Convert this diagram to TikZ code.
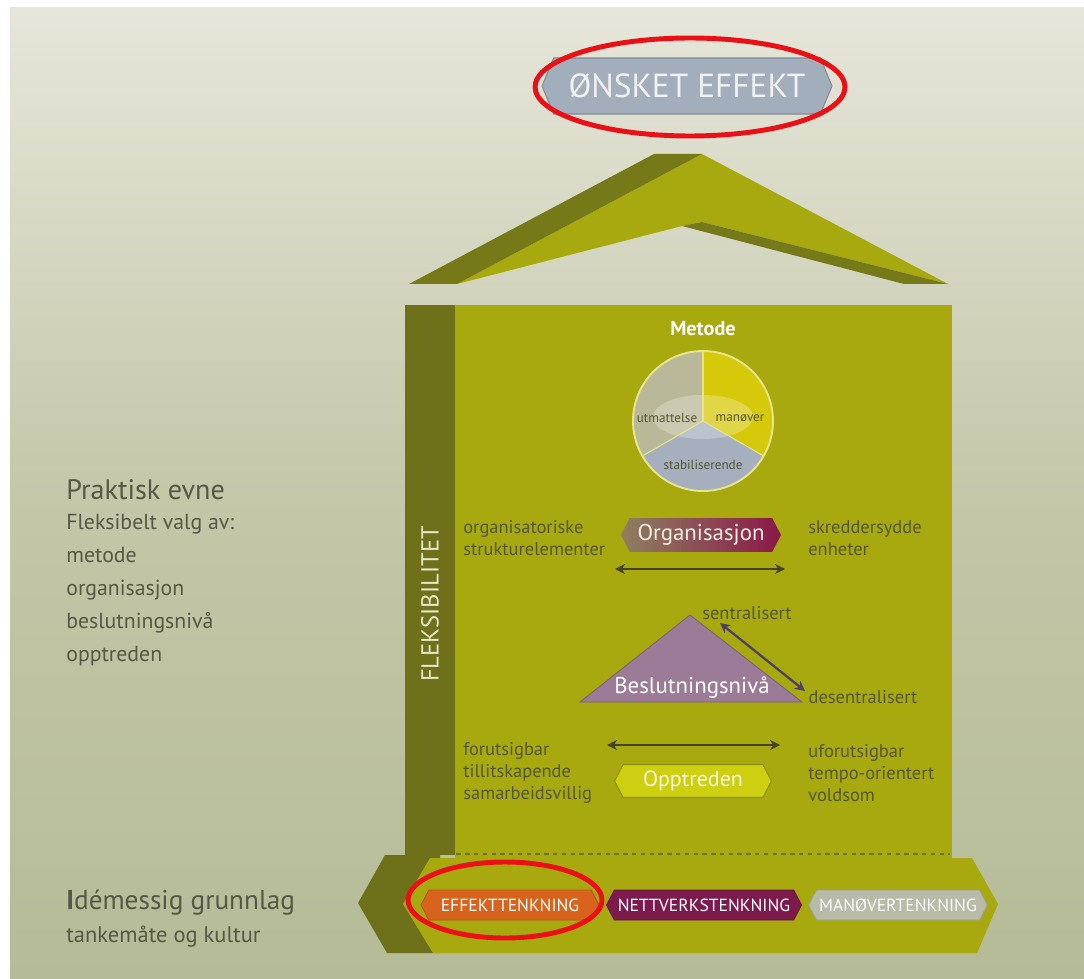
\documentclass[tikz,border=0pt]{standalone}
\usepackage{fontspec}
\setmainfont{PT Sans}
\usepackage{tikz}
\usetikzlibrary{shapes.symbols, shapes.geometric, arrows.meta, positioning, calc}
\definecolor{bgtop}{RGB}{230,230,218}
\definecolor{bgmid}{RGB}{196,199,168}
\definecolor{bgbottom}{RGB}{181,187,151}
\definecolor{olivelight}{RGB}{167,169,15}
\definecolor{olivedark}{RGB}{110,113,26}
\definecolor{roofdark}{RGB}{118,121,24}
\definecolor{textolive}{RGB}{86,86,46}
\definecolor{textgrey}{RGB}{85,88,68}
\definecolor{effektblue}{RGB}{163,174,188}
\definecolor{orgbrown}{RGB}{142,128,96}
\definecolor{orgmagenta}{RGB}{138,24,72}
\definecolor{triangmauve}{RGB}{155,123,152}
\definecolor{opptyellow}{RGB}{205,207,16}
\definecolor{effektorange}{RGB}{216,99,28}
\definecolor{nettpurple}{RGB}{124,26,76}
\definecolor{manovergrey}{RGB}{184,187,168}
\definecolor{piegrey}{RGB}{185,185,154}
\definecolor{pieyellow}{RGB}{214,201,10}
\definecolor{pieblue}{RGB}{165,175,190}
\definecolor{pieline}{RGB}{232,228,140}
\definecolor{markred}{RGB}{235,16,22}
\tikzstyle{tag} = [signal, signal to=east and west, signal pointer angle=125, inner sep=0pt, text centered]
\tikzstyle{basetag} = [tag, minimum height=0.6cm, font=\fontsize{10}{12}\selectfont, text=white]
\tikzstyle{bodytext} = [anchor=west, align=left, inner sep=0pt, text=textolive, font=\fontsize{10.5}{12.5}\selectfont]
\tikzstyle{sidetext} = [anchor=west, align=left, inner sep=0pt, text=textgrey]
\tikzstyle{dblarrow} = [{Stealth[length=2mm, width=2mm]}-{Stealth[length=2mm, width=2mm]}, line width=1.3pt, draw=textolive!80!black]
\tikzstyle{ring} = [draw=markred, line width=2.8pt]

\begin{document}
\begin{tikzpicture}[x=0.02cm, y=0.02cm]
    \useasboundingbox (0,0) rectangle (1084,978);
    % Background
    \fill[white] (0,0) rectangle (1084,978);
    \shade[top color=bgtop, bottom color=bgbottom, middle color=bgmid] (10,0) rectangle (1084,970);

    % Roof
    \fill[olivelight] (457,694) -- (702,824) -- (948,694) -- (702,756) -- (682,752) -- cycle;
    \fill[roofdark] (409,694) -- (654,824) -- (702,824) -- (457,694) -- cycle;
    \fill[roofdark] (682,752) -- (702,756) -- (948,694) -- (904,694) -- cycle;

    % Base plate
    \fill[olivedark] (385,123) -- (358,75) -- (387,25) -- (440,25) -- (440,123) -- cycle;
    \fill[olivelight] (430,120) -- (403,74) -- (433,25) -- (977,25) -- (998,74) -- (972,120) -- cycle;

    % House body
    \fill[olivelight] (455,120) rectangle (952,673);
    \fill[olivedark] (405,123) rectangle (455,673);
    \coordinate (dashL) at (430,124);
    \coordinate (dashR) at (950,124);
    \draw[olivedark, line width=1.1pt, dash pattern=on 2.5pt off 2.5pt] (dashL) -- (dashR);
    \node[rotate=90, text={rgb,255:red,232;green,232;blue,200}, font=\fontsize{14}{16}\selectfont] (fleks) at (430,374) {FLEKSIBILITET};

    % Top label
    \node[tag, fill=effektblue, draw=effektblue!80!black, line width=0.6pt, signal pointer angle=135,
          minimum width=5.8cm, minimum height=1.12cm, text={rgb,255:red,242;green,242;blue,242},
          font=\fontsize{19}{21}\selectfont] (onsket) at (687,892) {ØNSKET EFFEKT};

    % Metode
    \node[text=white, font=\fontsize{11.5}{13}\selectfont\bfseries] (metode) at (703,649) {Metode};
    \coordinate (pie) at (703,557);
    \fill[pieyellow] (pie) -- ++(90:70) arc[start angle=90, end angle=-30, radius=1.4cm] -- cycle;
    \fill[piegrey] (pie) -- ++(90:70) arc[start angle=90, end angle=210, radius=1.4cm] -- cycle;
    \fill[pieblue] (pie) -- ++(210:70) arc[start angle=210, end angle=330, radius=1.4cm] -- cycle;
    \fill[white, opacity=0.25] (703,561) ellipse[x radius=1.0cm, y radius=0.44cm];
    \foreach \a in {90,210,330} {
        \draw[pieline, line width=0.6pt] (pie) -- ++(\a:70);
    }
    \draw[pieline, line width=1.1pt] (pie) circle[radius=1.4cm];
    \node[text=textolive, font=\fontsize{7.5}{9}\selectfont] (utm) at (667,560) {utmattelse};
    \node[text=textolive, font=\fontsize{7.5}{9}\selectfont] (manov) at (740,560) {manøver};
    \node[text=textolive, font=\fontsize{7.5}{9}\selectfont] (stab) at (703,513) {stabiliserende};

    % Organisasjon
    \node[tag, left color=orgbrown, right color=orgmagenta, minimum width=3.2cm, minimum height=0.68cm,
          text={rgb,255:red,244;green,238;blue,226}, font=\fontsize{13}{15}\selectfont] (org) at (701,443) {Organisasjon};
    \node[bodytext] (orgleft) at (463,440) {organisatoriske\\strukturelementer};
    \node[bodytext] (orgright) at (808,440) {skreddersydde\\enheter};
    \coordinate (orgL) at (615,409);
    \coordinate (orgR) at (785,409);
    \draw[dblarrow] (orgL) -- (orgR);

    % Beslutningsniva
    \draw[fill=triangmauve, draw=triangmauve!80!black, line width=0.5pt] (580,276) -- (690,363) -- (802,276) -- cycle;
    \node[text=white, font=\fontsize{13}{15}\selectfont] (beslut) at (692,290) {Beslutningsnivå};
    \node[bodytext, anchor=center] (sentral) at (747,365) {sentralisert};
    \node[bodytext, anchor=center] (desentral) at (863,281) {desentralisert};
    \coordinate (sentL) at (720,355);
    \coordinate (sentR) at (805,287);
    \draw[dblarrow, draw={rgb,255:red,74;green,66;blue,98}] (sentL) -- (sentR);

    % Opptreden
    \coordinate (oppL) at (607,233);
    \coordinate (oppR) at (780,233);
    \draw[dblarrow] (oppL) -- (oppR);
    \node[tag, fill=opptyellow, draw=olivelight!85!black, line width=0.6pt, minimum width=3.14cm, minimum height=0.66cm,
          text={rgb,255:red,248;green,248;blue,222}, font=\fontsize{12.5}{14}\selectfont] (oppt) at (693,197) {Opptreden};
    \node[bodytext] (oppleft) at (463,205) {forutsigbar\\tillitskapende\\samarbeidsvillig};
    \node[bodytext] (oppright) at (808,205) {uforutsigbar\\tempo-orientert\\voldsom};

    % Base tags
    \foreach \nm/\x/\w/\col/\txt in {effekt/510/3.56/effektorange/EFFEKTTENKNING,
                                     nett/704/3.9/nettpurple/NETTVERKSTENKNING,
                                     manover/898/3.58/manovergrey/MANØVERTENKNING} {
        \node[basetag, fill=\col, draw=\col!85!black, line width=0.5pt, minimum width=\w cm] (\nm) at (\x,73) {\txt};
    }

    % Side texts
    \node[sidetext, font=\fontsize{16}{18}\selectfont] (praktisk) at (66,488) {Praktisk evne};
    \node[sidetext, font=\fontsize{12.4}{18.8}\selectfont] (valg) at (66,388) {Fleksibelt valg av:\\metode\\organisasjon\\beslutningsnivå\\opptreden};
    \node[sidetext, font=\fontsize{15.5}{18}\selectfont] (idemessig) at (66,75) {\textbf{I}démessig grunnlag};
    \node[sidetext, font=\fontsize{12.8}{15}\selectfont] (tankemate) at (66,41) {tankemåte og kultur};

    % Red markings
    \draw[ring] (690,891) ellipse[x radius=3.1cm, y radius=0.98cm];
    \draw[ring] (505,78) ellipse[x radius=1.94cm, y radius=0.76cm];
\end{tikzpicture}
\end{document}
